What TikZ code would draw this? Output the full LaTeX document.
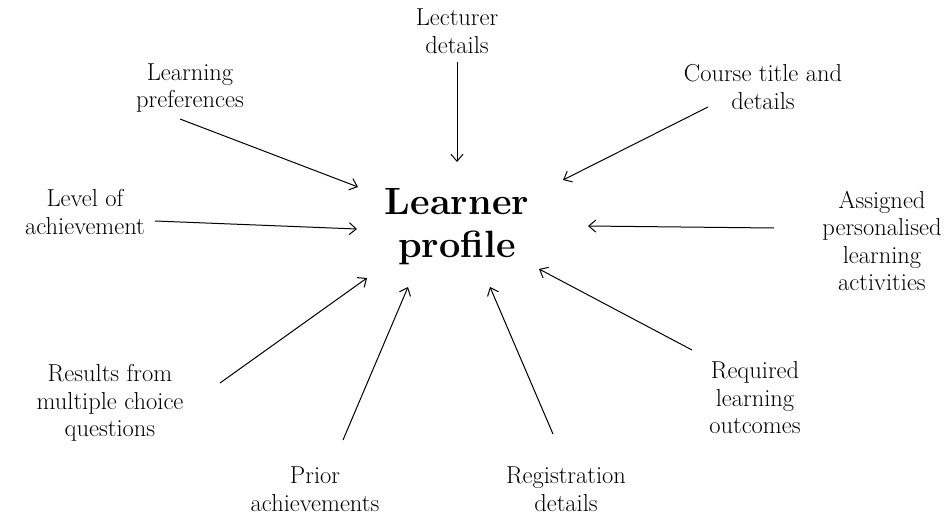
\documentclass[tikz,border=0pt]{standalone}
\usetikzlibrary{arrows.meta}
\begin{document}
\begin{tikzpicture}[x=1pt,y=-1pt,
  lbl/.style={align=center,font=\fontsize{24.5}{27.5}\selectfont,inner sep=0pt},
  hub/.style={align=center,font=\fontsize{38}{43}\selectfont\bfseries,inner sep=0pt},
  con/.style={-{Straight Barb[length=7pt,width=12pt]},line width=1pt}]
\useasboundingbox (0,0) rectangle (946,514);
\node[hub] (lp) at (457,227) {Learner\\profile};
\node[lbl] (lec) at (457,31) {Lecturer\\details};
\node[lbl] (pref) at (190,88) {Learning\\preferences};
\node[lbl] (course) at (763,87) {Course title and\\details};
\node[lbl] (level) at (85,212) {Level of\\achievement};
\node[lbl] (assign) at (882,241) {Assigned\\personalised\\learning\\activities};
\node[lbl] (results) at (110,403) {Results from\\multiple choice\\questions};
\node[lbl] (prior) at (315,489) {Prior\\achievements};
\node[lbl] (reg) at (566,489) {Registration\\details};
\node[lbl] (req) at (755,398) {Required\\learning\\outcomes};
\coordinate (lec-s) at (457,62);   \coordinate (lec-e) at (457,162);
\coordinate (pref-s) at (180,119); \coordinate (pref-e) at (358,187);
\coordinate (course-s) at (708,107); \coordinate (course-e) at (563,180);
\coordinate (level-s) at (155,221); \coordinate (level-e) at (357,229);
\coordinate (assign-s) at (774,228); \coordinate (assign-e) at (588,226);
\coordinate (req-s) at (692,350); \coordinate (req-e) at (539,269);
\coordinate (reg-s) at (553,434); \coordinate (reg-e) at (490,287);
\coordinate (prior-s) at (343,440); \coordinate (prior-e) at (408,287);
\coordinate (results-s) at (220,383); \coordinate (results-e) at (367,278);
\foreach \n in {lec,pref,course,level,assign,req,reg,prior,results}
  \draw[con] (\n-s) -- (\n-e);
\end{tikzpicture}
\end{document}
